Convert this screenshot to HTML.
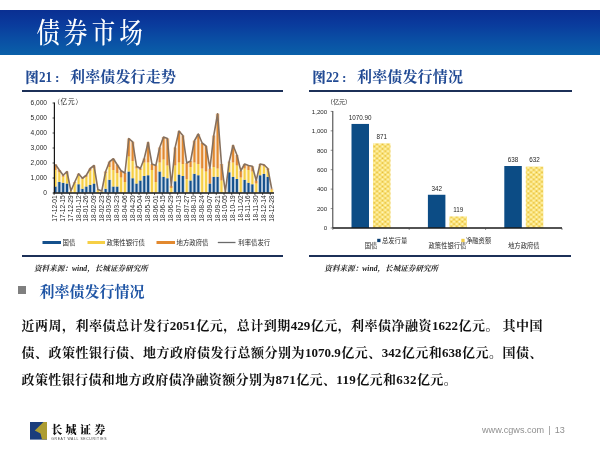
<!DOCTYPE html>
<html lang="zh-CN"><head><meta charset="utf-8"><title>债券市场</title>
<style>
html,body{margin:0;padding:0;background:#fff;}
body{width:600px;height:450px;position:relative;overflow:hidden;font-family:"Liberation Serif","Noto Serif CJK SC",serif;}
.abs{position:absolute;}
.band{left:0;top:10px;width:600px;height:44.5px;background:linear-gradient(to bottom,#0a2f92 0%,#0a3a9c 30%,#0a4ea4 65%,#0a60a9 100%);}
.title{left:36.5px;top:17.3px;color:#fff;font-size:23.5px;line-height:32px;letter-spacing:4.1px;white-space:nowrap;font-weight:500;transform:scaleY(1.2);transform-origin:50% 50%;}
.h2{color:#214a94;font-weight:700;font-size:15px;line-height:18px;white-space:nowrap;letter-spacing:0.15px;}
.h2 b{display:inline-block;width:44.8px;padding-left:3.2px;font-size:13.5px;letter-spacing:0;}
.h2 b i{font-style:normal;margin-left:0.8px;}
.h2 b u{text-decoration:none;display:inline-block;font-size:15.5px;transform:scaleX(0.84);transform-origin:0 50%;margin-left:0.6px;margin-right:-0.5px;}
.rule{height:2px;background:#1c3058;}
.src{font-size:7.6px;line-height:10px;font-style:italic;font-weight:700;color:#222;white-space:nowrap;}
.sec{left:39.6px;top:281.6px;color:#1f55a5;font-weight:700;font-size:15px;line-height:20px;white-space:nowrap;}
.bul{left:18.2px;top:286px;width:8.3px;height:8.3px;background:#7f7f7f;}
.body{left:21.6px;top:312px;width:521px;font-size:13px;line-height:27px;font-weight:700;color:#111;margin:0;}
.body span{display:block;white-space:nowrap;text-align:justify;text-align-last:justify;}
.body span.last{text-align-last:left;letter-spacing:0.37px;}
.foot{left:482px;top:423.5px;font-family:"Liberation Sans",sans-serif;font-size:9.1px;line-height:12px;color:#8f8f8f;white-space:nowrap;word-spacing:1.6px;}
.logotxt{left:51.3px;top:422.2px;font-size:11px;line-height:16px;font-weight:900;color:#111;letter-spacing:3.3px;white-space:nowrap;}
.logoen{left:51.3px;top:437.1px;font-family:"Liberation Sans",sans-serif;font-size:3.4px;line-height:5px;color:#444;letter-spacing:0.63px;white-space:nowrap;}
</style></head><body>
<div class="abs band"></div>
<div class="abs title">债券市场</div>
<div class="abs h2" style="left:22px;top:68px;"><b>图<u>21</u><i>:</i></b>利率债发行走势</div>
<div class="abs h2" style="left:309px;top:68px;"><b>图<u>22</u><i>:</i></b>利率债发行情况</div>
<div class="abs rule" style="left:21.5px;top:90.1px;width:261.5px;"></div>
<div class="abs rule" style="left:308.7px;top:90.1px;width:263px;"></div>
<svg class="abs" style="left:0;top:0" width="300" height="260" viewBox="0 0 300 260" font-family="'Liberation Sans','Noto Sans CJK SC',sans-serif" fill="#262626">
<g opacity="0.3"><rect x="53.50" y="186.50" width="3.86" height="6.00" fill="#14508c"/><rect x="53.50" y="170.00" width="3.86" height="16.50" fill="#f6cf45"/><rect x="53.50" y="164.45" width="3.86" height="5.55" fill="#e2892f"/><rect x="57.36" y="182.00" width="3.86" height="10.50" fill="#14508c"/><rect x="57.36" y="172.25" width="3.86" height="9.75" fill="#f6cf45"/><rect x="57.36" y="170.00" width="3.86" height="2.25" fill="#e2892f"/><rect x="61.22" y="182.75" width="3.86" height="9.75" fill="#14508c"/><rect x="61.22" y="176.75" width="3.86" height="6.00" fill="#f6cf45"/><rect x="61.22" y="175.25" width="3.86" height="1.50" fill="#e2892f"/><rect x="65.08" y="183.50" width="3.86" height="9.00" fill="#14508c"/><rect x="65.08" y="173.75" width="3.86" height="9.75" fill="#f6cf45"/><rect x="65.08" y="171.50" width="3.86" height="2.25" fill="#e2892f"/><rect x="68.95" y="191.00" width="3.86" height="1.50" fill="#f6cf45"/><rect x="72.81" y="182.75" width="3.86" height="9.75" fill="#f6cf45"/><rect x="72.81" y="182.00" width="3.86" height="0.75" fill="#e2892f"/><rect x="76.67" y="184.25" width="3.86" height="8.25" fill="#14508c"/><rect x="76.67" y="175.25" width="3.86" height="9.00" fill="#f6cf45"/><rect x="76.67" y="173.75" width="3.86" height="1.50" fill="#e2892f"/><rect x="80.53" y="188.75" width="3.86" height="3.75" fill="#14508c"/><rect x="80.53" y="179.00" width="3.86" height="9.75" fill="#f6cf45"/><rect x="80.53" y="178.25" width="3.86" height="0.75" fill="#e2892f"/><rect x="84.39" y="186.50" width="3.86" height="6.00" fill="#14508c"/><rect x="84.39" y="176.75" width="3.86" height="9.75" fill="#f6cf45"/><rect x="84.39" y="175.25" width="3.86" height="1.50" fill="#e2892f"/><rect x="88.25" y="185.00" width="3.86" height="7.50" fill="#14508c"/><rect x="88.25" y="170.75" width="3.86" height="14.25" fill="#f6cf45"/><rect x="88.25" y="168.50" width="3.86" height="2.25" fill="#e2892f"/><rect x="92.11" y="183.50" width="3.86" height="9.00" fill="#14508c"/><rect x="92.11" y="168.50" width="3.86" height="15.00" fill="#f6cf45"/><rect x="92.11" y="165.50" width="3.86" height="3.00" fill="#e2892f"/><rect x="95.98" y="189.50" width="3.86" height="3.00" fill="#f6cf45"/><rect x="99.84" y="191.75" width="3.86" height="0.75" fill="#14508c"/><rect x="99.84" y="191.00" width="3.86" height="0.75" fill="#f6cf45"/><rect x="103.70" y="188.75" width="3.86" height="3.75" fill="#14508c"/><rect x="103.70" y="173.00" width="3.86" height="15.75" fill="#f6cf45"/><rect x="103.70" y="171.50" width="3.86" height="1.50" fill="#e2892f"/><rect x="107.56" y="179.75" width="3.86" height="12.75" fill="#14508c"/><rect x="107.56" y="167.00" width="3.86" height="12.75" fill="#f6cf45"/><rect x="107.56" y="161.75" width="3.86" height="5.25" fill="#e2892f"/><rect x="111.42" y="186.50" width="3.86" height="6.00" fill="#14508c"/><rect x="111.42" y="170.00" width="3.86" height="16.50" fill="#f6cf45"/><rect x="111.42" y="158.75" width="3.86" height="11.25" fill="#e2892f"/><rect x="115.28" y="186.50" width="3.86" height="6.00" fill="#14508c"/><rect x="115.28" y="173.00" width="3.86" height="13.50" fill="#f6cf45"/><rect x="115.28" y="164.75" width="3.86" height="8.25" fill="#e2892f"/><rect x="119.14" y="177.50" width="3.86" height="15.00" fill="#f6cf45"/><rect x="119.14" y="170.75" width="3.86" height="6.75" fill="#e2892f"/><rect x="123.01" y="182.00" width="3.86" height="10.50" fill="#f6cf45"/><rect x="123.01" y="173.00" width="3.86" height="9.00" fill="#e2892f"/><rect x="126.87" y="171.50" width="3.86" height="21.00" fill="#14508c"/><rect x="126.87" y="156.50" width="3.86" height="15.00" fill="#f6cf45"/><rect x="126.87" y="138.50" width="3.86" height="18.00" fill="#e2892f"/><rect x="130.73" y="178.25" width="3.86" height="14.25" fill="#14508c"/><rect x="130.73" y="161.00" width="3.86" height="17.25" fill="#f6cf45"/><rect x="130.73" y="141.80" width="3.86" height="19.20" fill="#e2892f"/><rect x="134.59" y="183.50" width="3.86" height="9.00" fill="#14508c"/><rect x="134.59" y="168.50" width="3.86" height="15.00" fill="#f6cf45"/><rect x="134.59" y="166.25" width="3.86" height="2.25" fill="#e2892f"/><rect x="138.45" y="180.50" width="3.86" height="12.00" fill="#14508c"/><rect x="138.45" y="170.00" width="3.86" height="10.50" fill="#f6cf45"/><rect x="138.45" y="168.50" width="3.86" height="1.50" fill="#e2892f"/><rect x="142.31" y="176.00" width="3.86" height="16.50" fill="#14508c"/><rect x="142.31" y="162.50" width="3.86" height="13.50" fill="#f6cf45"/><rect x="142.31" y="158.45" width="3.86" height="4.05" fill="#e2892f"/><rect x="146.17" y="175.25" width="3.86" height="17.25" fill="#14508c"/><rect x="146.17" y="162.50" width="3.86" height="12.75" fill="#f6cf45"/><rect x="146.17" y="142.25" width="3.86" height="20.25" fill="#e2892f"/><rect x="150.04" y="170.00" width="3.86" height="22.50" fill="#f6cf45"/><rect x="150.04" y="164.00" width="3.86" height="6.00" fill="#e2892f"/><rect x="153.90" y="182.00" width="3.86" height="10.50" fill="#f6cf45"/><rect x="153.90" y="165.50" width="3.86" height="16.50" fill="#e2892f"/><rect x="157.76" y="171.50" width="3.86" height="21.00" fill="#14508c"/><rect x="157.76" y="162.50" width="3.86" height="9.00" fill="#f6cf45"/><rect x="157.76" y="147.50" width="3.86" height="15.00" fill="#e2892f"/><rect x="161.62" y="176.75" width="3.86" height="15.75" fill="#14508c"/><rect x="161.62" y="159.50" width="3.86" height="17.25" fill="#f6cf45"/><rect x="161.62" y="137.00" width="3.86" height="22.50" fill="#e2892f"/><rect x="165.48" y="178.25" width="3.86" height="14.25" fill="#14508c"/><rect x="165.48" y="165.50" width="3.86" height="12.75" fill="#f6cf45"/><rect x="165.48" y="138.50" width="3.86" height="27.00" fill="#e2892f"/><rect x="169.34" y="188.00" width="3.86" height="4.50" fill="#f6cf45"/><rect x="169.34" y="185.75" width="3.86" height="2.25" fill="#e2892f"/><rect x="173.20" y="181.25" width="3.86" height="11.25" fill="#14508c"/><rect x="173.20" y="165.50" width="3.86" height="15.75" fill="#f6cf45"/><rect x="173.20" y="147.50" width="3.86" height="18.00" fill="#e2892f"/><rect x="177.06" y="174.50" width="3.86" height="18.00" fill="#14508c"/><rect x="177.06" y="162.50" width="3.86" height="12.00" fill="#f6cf45"/><rect x="177.06" y="131.00" width="3.86" height="31.50" fill="#e2892f"/><rect x="180.93" y="176.00" width="3.86" height="16.50" fill="#14508c"/><rect x="180.93" y="164.00" width="3.86" height="12.00" fill="#f6cf45"/><rect x="180.93" y="135.50" width="3.86" height="28.50" fill="#e2892f"/><rect x="184.79" y="179.00" width="3.86" height="13.50" fill="#f6cf45"/><rect x="184.79" y="162.95" width="3.86" height="16.05" fill="#e2892f"/><rect x="188.65" y="180.50" width="3.86" height="12.00" fill="#14508c"/><rect x="188.65" y="167.00" width="3.86" height="13.50" fill="#f6cf45"/><rect x="188.65" y="161.00" width="3.86" height="6.00" fill="#e2892f"/><rect x="192.51" y="173.75" width="3.86" height="18.75" fill="#14508c"/><rect x="192.51" y="162.50" width="3.86" height="11.25" fill="#f6cf45"/><rect x="192.51" y="140.75" width="3.86" height="21.75" fill="#e2892f"/><rect x="196.37" y="175.25" width="3.86" height="17.25" fill="#14508c"/><rect x="196.37" y="164.00" width="3.86" height="11.25" fill="#f6cf45"/><rect x="196.37" y="134.00" width="3.86" height="30.00" fill="#e2892f"/><rect x="200.23" y="168.50" width="3.86" height="24.00" fill="#f6cf45"/><rect x="200.23" y="143.00" width="3.86" height="25.50" fill="#e2892f"/><rect x="204.09" y="171.50" width="3.86" height="21.00" fill="#f6cf45"/><rect x="204.09" y="146.00" width="3.86" height="25.50" fill="#e2892f"/><rect x="207.96" y="183.50" width="3.86" height="9.00" fill="#14508c"/><rect x="207.96" y="168.50" width="3.86" height="15.00" fill="#e2892f"/><rect x="211.82" y="176.75" width="3.86" height="15.75" fill="#14508c"/><rect x="211.82" y="167.00" width="3.86" height="9.75" fill="#f6cf45"/><rect x="211.82" y="135.50" width="3.86" height="31.50" fill="#e2892f"/><rect x="215.68" y="176.75" width="3.86" height="15.75" fill="#14508c"/><rect x="215.68" y="168.50" width="3.86" height="8.25" fill="#f6cf45"/><rect x="215.68" y="113.75" width="3.86" height="54.75" fill="#e2892f"/><rect x="219.54" y="180.50" width="3.86" height="12.00" fill="#f6cf45"/><rect x="219.54" y="164.00" width="3.86" height="16.50" fill="#e2892f"/><rect x="223.40" y="191.75" width="3.86" height="0.75" fill="#f6cf45"/><rect x="227.26" y="172.25" width="3.86" height="20.25" fill="#14508c"/><rect x="227.26" y="162.50" width="3.86" height="9.75" fill="#f6cf45"/><rect x="227.26" y="161.75" width="3.86" height="0.75" fill="#e2892f"/><rect x="231.12" y="176.75" width="3.86" height="15.75" fill="#14508c"/><rect x="231.12" y="162.50" width="3.86" height="14.25" fill="#f6cf45"/><rect x="231.12" y="145.25" width="3.86" height="17.25" fill="#e2892f"/><rect x="234.99" y="179.00" width="3.86" height="13.50" fill="#14508c"/><rect x="234.99" y="165.50" width="3.86" height="13.50" fill="#f6cf45"/><rect x="234.99" y="155.00" width="3.86" height="10.50" fill="#e2892f"/><rect x="238.85" y="177.50" width="3.86" height="15.00" fill="#f6cf45"/><rect x="238.85" y="170.75" width="3.86" height="6.75" fill="#e2892f"/><rect x="242.71" y="179.75" width="3.86" height="12.75" fill="#14508c"/><rect x="242.71" y="168.50" width="3.86" height="11.25" fill="#f6cf45"/><rect x="242.71" y="164.00" width="3.86" height="4.50" fill="#e2892f"/><rect x="246.57" y="182.75" width="3.86" height="9.75" fill="#14508c"/><rect x="246.57" y="170.00" width="3.86" height="12.75" fill="#f6cf45"/><rect x="246.57" y="165.50" width="3.86" height="4.50" fill="#e2892f"/><rect x="250.43" y="184.25" width="3.86" height="8.25" fill="#14508c"/><rect x="250.43" y="171.50" width="3.86" height="12.75" fill="#f6cf45"/><rect x="250.43" y="166.25" width="3.86" height="5.25" fill="#e2892f"/><rect x="254.29" y="183.50" width="3.86" height="9.00" fill="#f6cf45"/><rect x="254.29" y="180.50" width="3.86" height="3.00" fill="#e2892f"/><rect x="258.15" y="175.25" width="3.86" height="17.25" fill="#14508c"/><rect x="258.15" y="165.50" width="3.86" height="9.75" fill="#f6cf45"/><rect x="258.15" y="164.00" width="3.86" height="1.50" fill="#e2892f"/><rect x="262.02" y="173.75" width="3.86" height="18.75" fill="#14508c"/><rect x="262.02" y="166.25" width="3.86" height="7.50" fill="#f6cf45"/><rect x="262.02" y="164.75" width="3.86" height="1.50" fill="#e2892f"/><rect x="265.88" y="176.75" width="3.86" height="15.75" fill="#14508c"/><rect x="265.88" y="170.00" width="3.86" height="6.75" fill="#f6cf45"/><rect x="265.88" y="168.50" width="3.86" height="1.50" fill="#e2892f"/><rect x="269.74" y="189.50" width="3.86" height="3.00" fill="#f6cf45"/><rect x="269.74" y="188.75" width="3.86" height="0.75" fill="#e2892f"/></g>
<g><rect x="54.43" y="186.50" width="2.0" height="6.00" fill="#14508c"/><rect x="54.43" y="170.00" width="2.0" height="16.50" fill="#f6cf45"/><rect x="54.43" y="164.45" width="2.0" height="5.55" fill="#e2892f"/><rect x="58.29" y="182.00" width="2.0" height="10.50" fill="#14508c"/><rect x="58.29" y="172.25" width="2.0" height="9.75" fill="#f6cf45"/><rect x="58.29" y="170.00" width="2.0" height="2.25" fill="#e2892f"/><rect x="62.15" y="182.75" width="2.0" height="9.75" fill="#14508c"/><rect x="62.15" y="176.75" width="2.0" height="6.00" fill="#f6cf45"/><rect x="62.15" y="175.25" width="2.0" height="1.50" fill="#e2892f"/><rect x="66.01" y="183.50" width="2.0" height="9.00" fill="#14508c"/><rect x="66.01" y="173.75" width="2.0" height="9.75" fill="#f6cf45"/><rect x="66.01" y="171.50" width="2.0" height="2.25" fill="#e2892f"/><rect x="69.88" y="191.00" width="2.0" height="1.50" fill="#f6cf45"/><rect x="73.74" y="182.75" width="2.0" height="9.75" fill="#f6cf45"/><rect x="73.74" y="182.00" width="2.0" height="0.75" fill="#e2892f"/><rect x="77.60" y="184.25" width="2.0" height="8.25" fill="#14508c"/><rect x="77.60" y="175.25" width="2.0" height="9.00" fill="#f6cf45"/><rect x="77.60" y="173.75" width="2.0" height="1.50" fill="#e2892f"/><rect x="81.46" y="188.75" width="2.0" height="3.75" fill="#14508c"/><rect x="81.46" y="179.00" width="2.0" height="9.75" fill="#f6cf45"/><rect x="81.46" y="178.25" width="2.0" height="0.75" fill="#e2892f"/><rect x="85.32" y="186.50" width="2.0" height="6.00" fill="#14508c"/><rect x="85.32" y="176.75" width="2.0" height="9.75" fill="#f6cf45"/><rect x="85.32" y="175.25" width="2.0" height="1.50" fill="#e2892f"/><rect x="89.18" y="185.00" width="2.0" height="7.50" fill="#14508c"/><rect x="89.18" y="170.75" width="2.0" height="14.25" fill="#f6cf45"/><rect x="89.18" y="168.50" width="2.0" height="2.25" fill="#e2892f"/><rect x="93.04" y="183.50" width="2.0" height="9.00" fill="#14508c"/><rect x="93.04" y="168.50" width="2.0" height="15.00" fill="#f6cf45"/><rect x="93.04" y="165.50" width="2.0" height="3.00" fill="#e2892f"/><rect x="96.91" y="189.50" width="2.0" height="3.00" fill="#f6cf45"/><rect x="100.77" y="191.75" width="2.0" height="0.75" fill="#14508c"/><rect x="100.77" y="191.00" width="2.0" height="0.75" fill="#f6cf45"/><rect x="104.63" y="188.75" width="2.0" height="3.75" fill="#14508c"/><rect x="104.63" y="173.00" width="2.0" height="15.75" fill="#f6cf45"/><rect x="104.63" y="171.50" width="2.0" height="1.50" fill="#e2892f"/><rect x="108.49" y="179.75" width="2.0" height="12.75" fill="#14508c"/><rect x="108.49" y="167.00" width="2.0" height="12.75" fill="#f6cf45"/><rect x="108.49" y="161.75" width="2.0" height="5.25" fill="#e2892f"/><rect x="112.35" y="186.50" width="2.0" height="6.00" fill="#14508c"/><rect x="112.35" y="170.00" width="2.0" height="16.50" fill="#f6cf45"/><rect x="112.35" y="158.75" width="2.0" height="11.25" fill="#e2892f"/><rect x="116.21" y="186.50" width="2.0" height="6.00" fill="#14508c"/><rect x="116.21" y="173.00" width="2.0" height="13.50" fill="#f6cf45"/><rect x="116.21" y="164.75" width="2.0" height="8.25" fill="#e2892f"/><rect x="120.07" y="177.50" width="2.0" height="15.00" fill="#f6cf45"/><rect x="120.07" y="170.75" width="2.0" height="6.75" fill="#e2892f"/><rect x="123.94" y="182.00" width="2.0" height="10.50" fill="#f6cf45"/><rect x="123.94" y="173.00" width="2.0" height="9.00" fill="#e2892f"/><rect x="127.80" y="171.50" width="2.0" height="21.00" fill="#14508c"/><rect x="127.80" y="156.50" width="2.0" height="15.00" fill="#f6cf45"/><rect x="127.80" y="138.50" width="2.0" height="18.00" fill="#e2892f"/><rect x="131.66" y="178.25" width="2.0" height="14.25" fill="#14508c"/><rect x="131.66" y="161.00" width="2.0" height="17.25" fill="#f6cf45"/><rect x="131.66" y="141.80" width="2.0" height="19.20" fill="#e2892f"/><rect x="135.52" y="183.50" width="2.0" height="9.00" fill="#14508c"/><rect x="135.52" y="168.50" width="2.0" height="15.00" fill="#f6cf45"/><rect x="135.52" y="166.25" width="2.0" height="2.25" fill="#e2892f"/><rect x="139.38" y="180.50" width="2.0" height="12.00" fill="#14508c"/><rect x="139.38" y="170.00" width="2.0" height="10.50" fill="#f6cf45"/><rect x="139.38" y="168.50" width="2.0" height="1.50" fill="#e2892f"/><rect x="143.24" y="176.00" width="2.0" height="16.50" fill="#14508c"/><rect x="143.24" y="162.50" width="2.0" height="13.50" fill="#f6cf45"/><rect x="143.24" y="158.45" width="2.0" height="4.05" fill="#e2892f"/><rect x="147.10" y="175.25" width="2.0" height="17.25" fill="#14508c"/><rect x="147.10" y="162.50" width="2.0" height="12.75" fill="#f6cf45"/><rect x="147.10" y="142.25" width="2.0" height="20.25" fill="#e2892f"/><rect x="150.97" y="170.00" width="2.0" height="22.50" fill="#f6cf45"/><rect x="150.97" y="164.00" width="2.0" height="6.00" fill="#e2892f"/><rect x="154.83" y="182.00" width="2.0" height="10.50" fill="#f6cf45"/><rect x="154.83" y="165.50" width="2.0" height="16.50" fill="#e2892f"/><rect x="158.69" y="171.50" width="2.0" height="21.00" fill="#14508c"/><rect x="158.69" y="162.50" width="2.0" height="9.00" fill="#f6cf45"/><rect x="158.69" y="147.50" width="2.0" height="15.00" fill="#e2892f"/><rect x="162.55" y="176.75" width="2.0" height="15.75" fill="#14508c"/><rect x="162.55" y="159.50" width="2.0" height="17.25" fill="#f6cf45"/><rect x="162.55" y="137.00" width="2.0" height="22.50" fill="#e2892f"/><rect x="166.41" y="178.25" width="2.0" height="14.25" fill="#14508c"/><rect x="166.41" y="165.50" width="2.0" height="12.75" fill="#f6cf45"/><rect x="166.41" y="138.50" width="2.0" height="27.00" fill="#e2892f"/><rect x="170.27" y="188.00" width="2.0" height="4.50" fill="#f6cf45"/><rect x="170.27" y="185.75" width="2.0" height="2.25" fill="#e2892f"/><rect x="174.13" y="181.25" width="2.0" height="11.25" fill="#14508c"/><rect x="174.13" y="165.50" width="2.0" height="15.75" fill="#f6cf45"/><rect x="174.13" y="147.50" width="2.0" height="18.00" fill="#e2892f"/><rect x="178.00" y="174.50" width="2.0" height="18.00" fill="#14508c"/><rect x="178.00" y="162.50" width="2.0" height="12.00" fill="#f6cf45"/><rect x="178.00" y="131.00" width="2.0" height="31.50" fill="#e2892f"/><rect x="181.86" y="176.00" width="2.0" height="16.50" fill="#14508c"/><rect x="181.86" y="164.00" width="2.0" height="12.00" fill="#f6cf45"/><rect x="181.86" y="135.50" width="2.0" height="28.50" fill="#e2892f"/><rect x="185.72" y="179.00" width="2.0" height="13.50" fill="#f6cf45"/><rect x="185.72" y="162.95" width="2.0" height="16.05" fill="#e2892f"/><rect x="189.58" y="180.50" width="2.0" height="12.00" fill="#14508c"/><rect x="189.58" y="167.00" width="2.0" height="13.50" fill="#f6cf45"/><rect x="189.58" y="161.00" width="2.0" height="6.00" fill="#e2892f"/><rect x="193.44" y="173.75" width="2.0" height="18.75" fill="#14508c"/><rect x="193.44" y="162.50" width="2.0" height="11.25" fill="#f6cf45"/><rect x="193.44" y="140.75" width="2.0" height="21.75" fill="#e2892f"/><rect x="197.30" y="175.25" width="2.0" height="17.25" fill="#14508c"/><rect x="197.30" y="164.00" width="2.0" height="11.25" fill="#f6cf45"/><rect x="197.30" y="134.00" width="2.0" height="30.00" fill="#e2892f"/><rect x="201.16" y="168.50" width="2.0" height="24.00" fill="#f6cf45"/><rect x="201.16" y="143.00" width="2.0" height="25.50" fill="#e2892f"/><rect x="205.03" y="171.50" width="2.0" height="21.00" fill="#f6cf45"/><rect x="205.03" y="146.00" width="2.0" height="25.50" fill="#e2892f"/><rect x="208.89" y="183.50" width="2.0" height="9.00" fill="#14508c"/><rect x="208.89" y="168.50" width="2.0" height="15.00" fill="#e2892f"/><rect x="212.75" y="176.75" width="2.0" height="15.75" fill="#14508c"/><rect x="212.75" y="167.00" width="2.0" height="9.75" fill="#f6cf45"/><rect x="212.75" y="135.50" width="2.0" height="31.50" fill="#e2892f"/><rect x="216.61" y="176.75" width="2.0" height="15.75" fill="#14508c"/><rect x="216.61" y="168.50" width="2.0" height="8.25" fill="#f6cf45"/><rect x="216.61" y="113.75" width="2.0" height="54.75" fill="#e2892f"/><rect x="220.47" y="180.50" width="2.0" height="12.00" fill="#f6cf45"/><rect x="220.47" y="164.00" width="2.0" height="16.50" fill="#e2892f"/><rect x="224.33" y="191.75" width="2.0" height="0.75" fill="#f6cf45"/><rect x="228.19" y="172.25" width="2.0" height="20.25" fill="#14508c"/><rect x="228.19" y="162.50" width="2.0" height="9.75" fill="#f6cf45"/><rect x="228.19" y="161.75" width="2.0" height="0.75" fill="#e2892f"/><rect x="232.06" y="176.75" width="2.0" height="15.75" fill="#14508c"/><rect x="232.06" y="162.50" width="2.0" height="14.25" fill="#f6cf45"/><rect x="232.06" y="145.25" width="2.0" height="17.25" fill="#e2892f"/><rect x="235.92" y="179.00" width="2.0" height="13.50" fill="#14508c"/><rect x="235.92" y="165.50" width="2.0" height="13.50" fill="#f6cf45"/><rect x="235.92" y="155.00" width="2.0" height="10.50" fill="#e2892f"/><rect x="239.78" y="177.50" width="2.0" height="15.00" fill="#f6cf45"/><rect x="239.78" y="170.75" width="2.0" height="6.75" fill="#e2892f"/><rect x="243.64" y="179.75" width="2.0" height="12.75" fill="#14508c"/><rect x="243.64" y="168.50" width="2.0" height="11.25" fill="#f6cf45"/><rect x="243.64" y="164.00" width="2.0" height="4.50" fill="#e2892f"/><rect x="247.50" y="182.75" width="2.0" height="9.75" fill="#14508c"/><rect x="247.50" y="170.00" width="2.0" height="12.75" fill="#f6cf45"/><rect x="247.50" y="165.50" width="2.0" height="4.50" fill="#e2892f"/><rect x="251.36" y="184.25" width="2.0" height="8.25" fill="#14508c"/><rect x="251.36" y="171.50" width="2.0" height="12.75" fill="#f6cf45"/><rect x="251.36" y="166.25" width="2.0" height="5.25" fill="#e2892f"/><rect x="255.22" y="183.50" width="2.0" height="9.00" fill="#f6cf45"/><rect x="255.22" y="180.50" width="2.0" height="3.00" fill="#e2892f"/><rect x="259.09" y="175.25" width="2.0" height="17.25" fill="#14508c"/><rect x="259.09" y="165.50" width="2.0" height="9.75" fill="#f6cf45"/><rect x="259.09" y="164.00" width="2.0" height="1.50" fill="#e2892f"/><rect x="262.95" y="173.75" width="2.0" height="18.75" fill="#14508c"/><rect x="262.95" y="166.25" width="2.0" height="7.50" fill="#f6cf45"/><rect x="262.95" y="164.75" width="2.0" height="1.50" fill="#e2892f"/><rect x="266.81" y="176.75" width="2.0" height="15.75" fill="#14508c"/><rect x="266.81" y="170.00" width="2.0" height="6.75" fill="#f6cf45"/><rect x="266.81" y="168.50" width="2.0" height="1.50" fill="#e2892f"/><rect x="270.67" y="189.50" width="2.0" height="3.00" fill="#f6cf45"/><rect x="270.67" y="188.75" width="2.0" height="0.75" fill="#e2892f"/></g>
<polyline points="55.43,164.45 59.29,170.00 63.15,175.25 67.01,171.50 70.88,191.00 74.74,182.00 78.60,173.75 82.46,178.25 86.32,175.25 90.18,168.50 94.04,165.50 97.91,189.50 101.77,191.00 105.63,171.50 109.49,161.75 113.35,158.75 117.21,164.75 121.07,170.75 124.94,173.00 128.80,138.50 132.66,141.80 136.52,166.25 140.38,168.50 144.24,158.45 148.10,142.25 151.97,164.00 155.83,165.50 159.69,147.50 163.55,137.00 167.41,138.50 171.27,185.75 175.13,147.50 179.00,131.00 182.86,135.50 186.72,162.95 190.58,161.00 194.44,140.75 198.30,134.00 202.16,143.00 206.03,146.00 209.89,168.50 213.75,135.50 217.61,113.75 221.47,164.00 225.33,191.75 229.19,161.75 233.06,145.25 236.92,155.00 240.78,170.75 244.64,164.00 248.50,165.50 252.36,166.25 256.22,180.50 260.09,164.00 263.95,164.75 267.81,168.50 271.67,188.75" fill="none" stroke="#86705e" stroke-width="1.6" stroke-linejoin="round"/>
<line x1="54.4" x2="54.4" y1="102.6" y2="193" stroke="#161616" stroke-width="1.2"/>
<line x1="53.5" x2="274" y1="193" y2="193" stroke="#161616" stroke-width="1.3"/>
<line x1="54.10" x2="54.10" y1="193" y2="195" stroke="#161616" stroke-width="0.7"/><line x1="61.82" x2="61.82" y1="193" y2="195" stroke="#161616" stroke-width="0.7"/><line x1="69.55" x2="69.55" y1="193" y2="195" stroke="#161616" stroke-width="0.7"/><line x1="77.27" x2="77.27" y1="193" y2="195" stroke="#161616" stroke-width="0.7"/><line x1="84.99" x2="84.99" y1="193" y2="195" stroke="#161616" stroke-width="0.7"/><line x1="92.71" x2="92.71" y1="193" y2="195" stroke="#161616" stroke-width="0.7"/><line x1="100.44" x2="100.44" y1="193" y2="195" stroke="#161616" stroke-width="0.7"/><line x1="108.16" x2="108.16" y1="193" y2="195" stroke="#161616" stroke-width="0.7"/><line x1="115.88" x2="115.88" y1="193" y2="195" stroke="#161616" stroke-width="0.7"/><line x1="123.61" x2="123.61" y1="193" y2="195" stroke="#161616" stroke-width="0.7"/><line x1="131.33" x2="131.33" y1="193" y2="195" stroke="#161616" stroke-width="0.7"/><line x1="139.05" x2="139.05" y1="193" y2="195" stroke="#161616" stroke-width="0.7"/><line x1="146.77" x2="146.77" y1="193" y2="195" stroke="#161616" stroke-width="0.7"/><line x1="154.50" x2="154.50" y1="193" y2="195" stroke="#161616" stroke-width="0.7"/><line x1="162.22" x2="162.22" y1="193" y2="195" stroke="#161616" stroke-width="0.7"/><line x1="169.94" x2="169.94" y1="193" y2="195" stroke="#161616" stroke-width="0.7"/><line x1="177.66" x2="177.66" y1="193" y2="195" stroke="#161616" stroke-width="0.7"/><line x1="185.39" x2="185.39" y1="193" y2="195" stroke="#161616" stroke-width="0.7"/><line x1="193.11" x2="193.11" y1="193" y2="195" stroke="#161616" stroke-width="0.7"/><line x1="200.83" x2="200.83" y1="193" y2="195" stroke="#161616" stroke-width="0.7"/><line x1="208.56" x2="208.56" y1="193" y2="195" stroke="#161616" stroke-width="0.7"/><line x1="216.28" x2="216.28" y1="193" y2="195" stroke="#161616" stroke-width="0.7"/><line x1="224.00" x2="224.00" y1="193" y2="195" stroke="#161616" stroke-width="0.7"/><line x1="231.72" x2="231.72" y1="193" y2="195" stroke="#161616" stroke-width="0.7"/><line x1="239.45" x2="239.45" y1="193" y2="195" stroke="#161616" stroke-width="0.7"/><line x1="247.17" x2="247.17" y1="193" y2="195" stroke="#161616" stroke-width="0.7"/><line x1="254.89" x2="254.89" y1="193" y2="195" stroke="#161616" stroke-width="0.7"/><line x1="262.62" x2="262.62" y1="193" y2="195" stroke="#161616" stroke-width="0.7"/><line x1="270.34" x2="270.34" y1="193" y2="195" stroke="#161616" stroke-width="0.7"/>
<text x="47" y="194.95" text-anchor="end" font-size="6.6">0</text><line x1="52.6" x2="54.4" y1="193.00" y2="193.00" stroke="#161616" stroke-width="0.8"/><text x="47" y="179.95" text-anchor="end" font-size="6.6">1,000</text><line x1="52.6" x2="54.4" y1="178.00" y2="178.00" stroke="#161616" stroke-width="0.8"/><text x="47" y="164.95" text-anchor="end" font-size="6.6">2,000</text><line x1="52.6" x2="54.4" y1="163.00" y2="163.00" stroke="#161616" stroke-width="0.8"/><text x="47" y="149.95" text-anchor="end" font-size="6.6">3,000</text><line x1="52.6" x2="54.4" y1="148.00" y2="148.00" stroke="#161616" stroke-width="0.8"/><text x="47" y="134.95" text-anchor="end" font-size="6.6">4,000</text><line x1="52.6" x2="54.4" y1="133.00" y2="133.00" stroke="#161616" stroke-width="0.8"/><text x="47" y="119.95" text-anchor="end" font-size="6.6">5,000</text><line x1="52.6" x2="54.4" y1="118.00" y2="118.00" stroke="#161616" stroke-width="0.8"/><text x="47" y="104.95" text-anchor="end" font-size="6.6">6,000</text><line x1="52.6" x2="54.4" y1="103.00" y2="103.00" stroke="#161616" stroke-width="0.8"/>
<text x="53.2" y="104" font-size="6.7" letter-spacing="0.75">（亿元）</text>
<text transform="translate(57.33,195.3) rotate(-90)" text-anchor="end" font-size="6.6">17-12-01</text><text transform="translate(65.05,195.3) rotate(-90)" text-anchor="end" font-size="6.6">17-12-15</text><text transform="translate(72.78,195.3) rotate(-90)" text-anchor="end" font-size="6.6">17-12-29</text><text transform="translate(80.50,195.3) rotate(-90)" text-anchor="end" font-size="6.6">18-01-12</text><text transform="translate(88.22,195.3) rotate(-90)" text-anchor="end" font-size="6.6">18-01-26</text><text transform="translate(95.94,195.3) rotate(-90)" text-anchor="end" font-size="6.6">18-02-09</text><text transform="translate(103.67,195.3) rotate(-90)" text-anchor="end" font-size="6.6">18-02-23</text><text transform="translate(111.39,195.3) rotate(-90)" text-anchor="end" font-size="6.6">18-03-09</text><text transform="translate(119.11,195.3) rotate(-90)" text-anchor="end" font-size="6.6">18-03-23</text><text transform="translate(126.84,195.3) rotate(-90)" text-anchor="end" font-size="6.6">18-04-06</text><text transform="translate(134.56,195.3) rotate(-90)" text-anchor="end" font-size="6.6">18-04-20</text><text transform="translate(142.28,195.3) rotate(-90)" text-anchor="end" font-size="6.6">18-05-04</text><text transform="translate(150.00,195.3) rotate(-90)" text-anchor="end" font-size="6.6">18-05-18</text><text transform="translate(157.73,195.3) rotate(-90)" text-anchor="end" font-size="6.6">18-06-01</text><text transform="translate(165.45,195.3) rotate(-90)" text-anchor="end" font-size="6.6">18-06-15</text><text transform="translate(173.17,195.3) rotate(-90)" text-anchor="end" font-size="6.6">18-06-29</text><text transform="translate(180.90,195.3) rotate(-90)" text-anchor="end" font-size="6.6">18-07-13</text><text transform="translate(188.62,195.3) rotate(-90)" text-anchor="end" font-size="6.6">18-07-27</text><text transform="translate(196.34,195.3) rotate(-90)" text-anchor="end" font-size="6.6">18-08-10</text><text transform="translate(204.06,195.3) rotate(-90)" text-anchor="end" font-size="6.6">18-08-24</text><text transform="translate(211.79,195.3) rotate(-90)" text-anchor="end" font-size="6.6">18-09-07</text><text transform="translate(219.51,195.3) rotate(-90)" text-anchor="end" font-size="6.6">18-09-21</text><text transform="translate(227.23,195.3) rotate(-90)" text-anchor="end" font-size="6.6">18-10-05</text><text transform="translate(234.96,195.3) rotate(-90)" text-anchor="end" font-size="6.6">18-10-19</text><text transform="translate(242.68,195.3) rotate(-90)" text-anchor="end" font-size="6.6">18-11-02</text><text transform="translate(250.40,195.3) rotate(-90)" text-anchor="end" font-size="6.6">18-11-16</text><text transform="translate(258.12,195.3) rotate(-90)" text-anchor="end" font-size="6.6">18-11-30</text><text transform="translate(265.85,195.3) rotate(-90)" text-anchor="end" font-size="6.6">18-12-14</text><text transform="translate(273.57,195.3) rotate(-90)" text-anchor="end" font-size="6.6">18-12-28</text>
<rect x="42.5" y="241" width="18.5" height="3" fill="#14508c"/><text x="62.5" y="244.8" font-size="6.4">国债</text>
<rect x="87.5" y="241" width="17.5" height="3" fill="#f6cf45"/><text x="106.5" y="244.8" font-size="6.4">政策性银行债</text>
<rect x="156.5" y="241" width="18.5" height="3" fill="#e2892f"/><text x="176.5" y="244.8" font-size="6.4">地方政府债</text>
<line x1="217.8" x2="235.5" y1="242.5" y2="242.5" stroke="#6a6a6a" stroke-width="1.3"/><text x="238.3" y="244.8" font-size="6.4">利率债发行</text>
</svg>
<svg class="abs" style="left:300px;top:0" width="300" height="260" viewBox="300 0 300 260" font-family="'Liberation Sans','Noto Sans CJK SC',sans-serif" fill="#262626">
<defs><pattern id="dots" x="372.9" y="143" width="5.5" height="4.7" patternUnits="userSpaceOnUse"><rect width="5.5" height="4.7" fill="#f9e06e"/><circle cx="1.375" cy="1.175" r="1.05" fill="#fff7c4"/><circle cx="4.125" cy="3.525" r="1.05" fill="#fff7c4"/><circle cx="4.125" cy="1.175" r="0.75" fill="#e0b43a"/><circle cx="1.375" cy="3.525" r="0.75" fill="#e0b43a"/></pattern></defs>
<rect x="351.50" y="123.94" width="17.5" height="104.06" fill="#0c4c85"/><rect x="373.00" y="143.37" width="17.5" height="84.63" fill="url(#dots)"/><text x="360.25" y="119.94" text-anchor="middle" font-size="6.3">1070.90</text><text x="381.75" y="139.37" text-anchor="middle" font-size="6.3">871</text><text x="371.00" y="247.6" text-anchor="middle" font-size="6.3">国债</text><rect x="427.90" y="194.77" width="17.5" height="33.23" fill="#0c4c85"/><rect x="449.40" y="216.44" width="17.5" height="11.56" fill="url(#dots)"/><text x="436.65" y="190.77" text-anchor="middle" font-size="6.3">342</text><text x="458.15" y="212.44" text-anchor="middle" font-size="6.3">119</text><text x="447.40" y="247.6" text-anchor="middle" font-size="6.3">政策性银行债</text><rect x="504.30" y="166.01" width="17.5" height="61.99" fill="#0c4c85"/><rect x="525.80" y="166.59" width="17.5" height="61.41" fill="url(#dots)"/><text x="513.05" y="162.01" text-anchor="middle" font-size="6.3">638</text><text x="534.55" y="162.01" text-anchor="middle" font-size="6.3">632</text><text x="523.80" y="247.6" text-anchor="middle" font-size="6.3">地方政府债</text>
<line x1="332.8" x2="332.8" y1="111" y2="228.0" stroke="#222" stroke-width="0.9"/>
<line x1="332.8" x2="562" y1="228.0" y2="228.0" stroke="#1a1a1a" stroke-width="1.4"/>
<line x1="332.80" x2="332.80" y1="228.0" y2="230.0" stroke="#444" stroke-width="0.6"/><line x1="409.20" x2="409.20" y1="228.0" y2="230.0" stroke="#444" stroke-width="0.6"/><line x1="485.60" x2="485.60" y1="228.0" y2="230.0" stroke="#444" stroke-width="0.6"/><line x1="562.00" x2="562.00" y1="228.0" y2="230.0" stroke="#444" stroke-width="0.6"/>
<text x="327.2" y="230.25" text-anchor="end" font-size="6.15">0</text><line x1="330.7" x2="332.7" y1="228.00" y2="228.00" stroke="#444" stroke-width="0.6"/><text x="327.2" y="210.82" text-anchor="end" font-size="6.15">200</text><line x1="330.7" x2="332.7" y1="208.57" y2="208.57" stroke="#444" stroke-width="0.6"/><text x="327.2" y="191.38" text-anchor="end" font-size="6.15">400</text><line x1="330.7" x2="332.7" y1="189.13" y2="189.13" stroke="#444" stroke-width="0.6"/><text x="327.2" y="171.95" text-anchor="end" font-size="6.15">600</text><line x1="330.7" x2="332.7" y1="169.70" y2="169.70" stroke="#444" stroke-width="0.6"/><text x="327.2" y="152.52" text-anchor="end" font-size="6.15">800</text><line x1="330.7" x2="332.7" y1="150.27" y2="150.27" stroke="#444" stroke-width="0.6"/><text x="327.2" y="133.08" text-anchor="end" font-size="6.15">1,000</text><line x1="330.7" x2="332.7" y1="130.83" y2="130.83" stroke="#444" stroke-width="0.6"/><text x="327.2" y="113.65" text-anchor="end" font-size="6.15">1,200</text><line x1="330.7" x2="332.7" y1="111.40" y2="111.40" stroke="#444" stroke-width="0.6"/>
<text x="326.8" y="103.6" font-size="6.1">（亿元）</text>
<rect x="377.2" y="238.8" width="3.3" height="3.3" fill="#0c3f72"/><text x="382" y="242.7" font-size="6.3">总发行量</text>
<rect x="461.3" y="238.8" width="3.3" height="3.3" fill="#f3cf4a"/><text x="466" y="242.7" font-size="6.3">净融资额</text>
</svg>
<div class="abs rule" style="left:21.5px;top:254.7px;width:261.5px;"></div>
<div class="abs rule" style="left:309px;top:254.7px;width:262.3px;"></div>
<div class="abs src" style="left:34px;top:263.6px;">资料来源：wind，长城证券研究所</div>
<div class="abs src" style="left:324.3px;top:263.6px;">资料来源：wind，长城证券研究所</div>
<div class="abs bul"></div>
<div class="abs sec">利率债发行情况</div>
<p class="abs body"><span>近两周，利率债总计发行2051亿元，总计到期429亿元，利率债净融资1622亿元。 其中国</span><span>债、政策性银行债、地方政府债发行总额分别为1070.9亿元、342亿元和638亿元。国债、</span><span class="last">政策性银行债和地方政府债净融资额分别为871亿元、119亿元和632亿元。</span></p>
<svg class="abs" style="left:29.5px;top:422.2px" width="17.6" height="17.6" viewBox="0 0 17.6 17.6"><rect width="17.6" height="17.6" fill="#1b3d7c"/><polygon points="17.6,0 13.5,0 4.8,8.4 10.5,11.6 12,17.6 17.6,17.6" fill="#ad9d32"/></svg>
<div class="abs logotxt">长城证券</div>
<div class="abs logoen">GREAT WALL SECURITIES</div>
<div class="abs foot">www.cgws.com | 13</div>
</body></html>
